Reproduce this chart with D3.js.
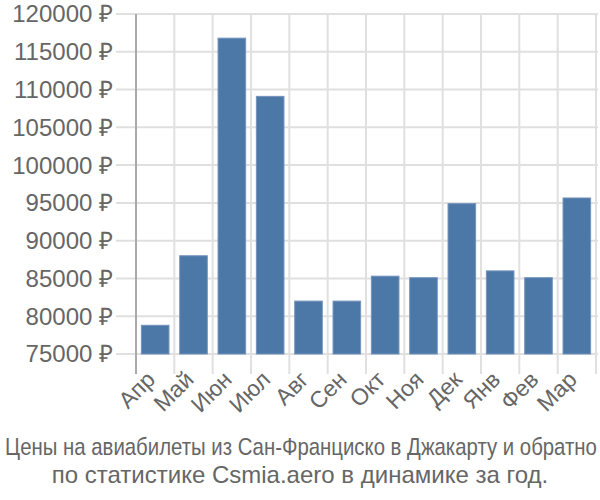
<!DOCTYPE html>
<html><head><meta charset="utf-8">
<script src="https://cdn.jsdelivr.net/npm/d3@7"></script>
<style>body{margin:0;background:#fff;} svg{display:block;}</style>
</head><body>
<svg id="c" width="600" height="500"></svg>
<script>
const categories = ["Апр","Май","Июн","Июл","Авг","Сен","Окт","Ноя","Дек","Янв","Фев","Мар"];
const values = [78800, 88000, 116800, 109100, 82000, 82000, 85300, 85100, 94900, 86000, 85100, 95650];
const yTicks = [75000, 80000, 85000, 90000, 95000, 100000, 105000, 110000, 115000, 120000];
const titleLines = ["Цены на авиабилеты из Сан-Франциско в Джакарту и обратно", "по статистике Csmia.aero в динамике за год."];

(function(){
const svg = d3.select("#c");
const mLeft = 136, mRight = 596, mTop = 14, mBottom = 354;
const x = d3.scaleBand().domain(categories).range([mLeft, mRight]).paddingInner(0.28).paddingOuter(0.14);
const xb = d3.scaleBand().domain(categories).range([mLeft, mRight]);
const y = d3.scaleLinear().domain([75000, 120000]).range([mBottom, mTop]);
const font = "'Liberation Sans', Arial, sans-serif";

svg.append("g").selectAll("line").data(yTicks).join("line")
  .attr("x1", 116).attr("x2", 598)
  .attr("y1", d => y(d)).attr("y2", d => y(d))
  .attr("stroke", "#e0e0e0").attr("stroke-width", 2);
svg.append("g").selectAll("line").data(categories).join("line")
  .attr("x1", (d,i) => mLeft + (i+1)*xb.step()).attr("x2", (d,i) => mLeft + (i+1)*xb.step())
  .attr("y1", mTop).attr("y2", 374)
  .attr("stroke", "#e0e0e0").attr("stroke-width", 2);
svg.append("line").attr("x1", mLeft).attr("x2", mLeft).attr("y1", mTop).attr("y2", 374)
  .attr("stroke", "#aaaaaa").attr("stroke-width", 2);

svg.append("g").selectAll("rect").data(values).join("rect")
  .attr("x", (d,i) => x(categories[i]))
  .attr("width", x.bandwidth())
  .attr("y", d => y(d))
  .attr("height", d => y(75000) - y(d))
  .attr("fill", "#4c78a8")
  .attr("stroke", "#7393bd").attr("stroke-width", 1);

svg.append("g").selectAll("text").data(yTicks).join("text")
  .attr("x", 113).attr("y", d => y(d))
  .attr("dy", "0.35em").attr("text-anchor", "end")
  .attr("font-family", font).attr("font-size", 24).attr("fill", "#666")
  .text(d => d + " ₽");

svg.append("g").selectAll("text").data(categories).join("text")
  .attr("transform", d => `translate(${xb(d) + xb.bandwidth()/2 + 1.5},${381}) rotate(-45)`)
  .attr("text-anchor", "end")
  .attr("font-family", font).attr("font-size", 23).attr("fill", "#666")
  .text(d => d);

const t1 = svg.append("text").attr("x", 0).attr("y", 0).attr("text-anchor", "middle")
  .attr("font-family", font).attr("font-size", 24).attr("fill", "#666")
  .text(titleLines[0]);
const w1 = t1.node().getComputedTextLength();
const sx = Math.min(1, 592 / w1);
t1.attr("transform", `translate(301,455) scale(${sx},1)`);
svg.append("text").attr("x", 300).attr("y", 483).attr("text-anchor", "middle")
  .attr("font-family", font).attr("font-size", 24).attr("fill", "#666")
  .text(titleLines[1]);
})();
</script>
</body></html>
